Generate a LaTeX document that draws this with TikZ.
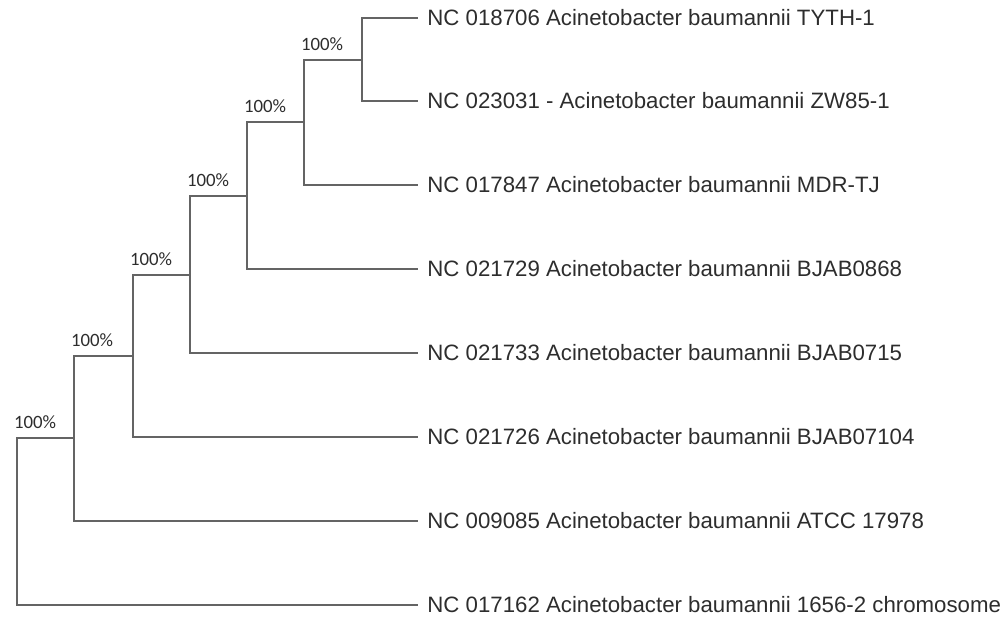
\documentclass[tikz,border=0pt]{standalone}
\usepackage{fontspec}
\setmainfont{Liberation Sans}
\newfontfamily\bootfont{Carlito}
\usetikzlibrary{positioning}
\definecolor{branchgray}{RGB}{100,100,100}
\definecolor{labelgray}{RGB}{45,45,45}

\tikzset{
  branch/.style={draw=branchgray, line width=1pt},
  taxon/.style={anchor=west, inner sep=4.5pt, text=labelgray,
    font=\fontsize{11.12}{13}\selectfont},
  boot/.style={anchor=south west, inner sep=0pt, xshift=-2pt, yshift=4pt,
    text=labelgray, font=\bootfont\fontsize{9.4}{11}\selectfont}
}

\begin{document}
\begin{tikzpicture}[x=0.5pt, y=-0.5pt]
  \useasboundingbox (0,0) rectangle (1004,621);

  % taxa
  \node[taxon] (tyth)  at (418,18)  {NC 018706 Acinetobacter baumannii TYTH-1};
  \node[taxon] (zw)    at (418,101) {NC 023031 - Acinetobacter baumannii ZW85-1};
  \node[taxon] (mdr)   at (418,185) {NC 017847 Acinetobacter baumannii MDR-TJ};
  \node[taxon] (bj868) at (418,269) {NC 021729 Acinetobacter baumannii BJAB0868};
  \node[taxon] (bj715) at (418,353) {NC 021733 Acinetobacter baumannii BJAB0715};
  \node[taxon] (bj104) at (418,437) {NC 021726 Acinetobacter baumannii BJAB07104};
  \node[taxon] (atcc)  at (418,521) {NC 009085 Acinetobacter baumannii ATCC 17978};
  \node[taxon] (chrom) at (418,605) {NC 017162 Acinetobacter baumannii 1656-2 chromosome};

  % inner nodes
  \coordinate (c1)   at (362,60);
  \coordinate (c2)   at (304,122);
  \coordinate (c3)   at (247,196);
  \coordinate (c4)   at (190,275);
  \coordinate (c5)   at (133,356);
  \coordinate (c6)   at (74,438);
  \coordinate (root) at (17,521);

  \draw[branch] (c1) |- (tyth.west);
  \draw[branch] (c1) |- (zw.west);
  \draw[branch] (c2) |- node[boot] {100\%} (c1);
  \draw[branch] (c2) |- (mdr.west);
  \draw[branch] (c3) |- node[boot] {100\%} (c2);
  \draw[branch] (c3) |- (bj868.west);
  \draw[branch] (c4) |- node[boot] {100\%} (c3);
  \draw[branch] (c4) |- (bj715.west);
  \draw[branch] (c5) |- node[boot] {100\%} (c4);
  \draw[branch] (c5) |- (bj104.west);
  \draw[branch] (c6) |- node[boot] {100\%} (c5);
  \draw[branch] (c6) |- (atcc.west);
  \draw[branch] (root) |- node[boot] {100\%} (c6);
  \draw[branch] (root) |- (chrom.west);

\end{tikzpicture}
\end{document}
